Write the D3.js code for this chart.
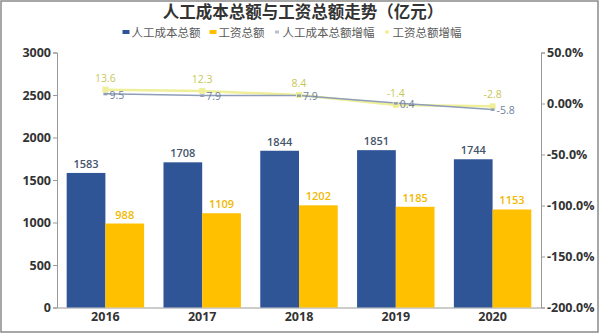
<!DOCTYPE html>
<html><head><meta charset="utf-8">
<script src="https://cdn.jsdelivr.net/npm/d3@7"></script>
<style>
body{margin:0;background:#fff;}
svg{display:block;font-family:"Noto Sans CJK SC","Open Sans",sans-serif;}
</style></head><body>
<svg id="c" width="600" height="334"></svg>
<script>
const title = "人工成本总额与工资总额走势（亿元）";
const years = ["2016","2017","2018","2019","2020"];
const laborCost = [1583,1708,1844,1851,1744];
const wages = [988,1109,1202,1185,1153];
const laborGrowth = [9.5,7.9,7.9,0.4,-5.8];
const wageGrowth = [13.6,12.3,8.4,-1.4,-2.8];
const leftTicks = [0,500,1000,1500,2000,2500,3000];
const rightTicks = [50,0,-50,-100,-150,-200];
const rightTickLabels = ["50.0%","0.00%","-50.0%","-100.0%","-150.0%","-200.0%"];
const seriesNames = ["人工成本总额","工资总额","人工成本总额增幅","工资总额增幅"];

const C = {blue:"#2F5597", yellow:"#FFC000", blueLine:"#8E9DB8", yellowLine:"#EFEF9A",
  blueLbl:"#44546A", yellowLbl:"#F2B800", blueLineLbl:"#6F7F9E", yellowLineLbl:"#C9C75A", tick:"#333"};

const svg = d3.select("#c");
svg.append("rect").attr("x",1).attr("y",1).attr("width",597).attr("height",331)
  .attr("fill","#fff").attr("stroke","#8a8a8a").attr("stroke-width",1.5);

const L = 57, R = 541, T = 52.5, B = 307.5;
const x = d3.scaleBand().domain(years).range([L,R]).paddingInner(0.2).paddingOuter(0.1);
const xs = d3.scaleBand().domain([0,1]).range([0,x.bandwidth()]);
const y = d3.scaleLinear().domain([0,3000]).range([B,T]);
const y2 = d3.scaleLinear().domain([-200,50]).range([B,T]);

// title
svg.append("text").attr("x",303).attr("y",18).attr("text-anchor","middle")
  .attr("font-size",16.5).attr("font-weight","bold").attr("fill","#333").text(title);

// axes
const gl = svg.append("g").attr("transform",`translate(${L},0)`)
  .call(d3.axisLeft(y).tickValues(leftTicks).tickSize(4).tickPadding(2).tickFormat(d3.format("d")));
const gr = svg.append("g").attr("transform",`translate(${R},0)`)
  .call(d3.axisRight(y2).tickValues(rightTicks).tickSize(4).tickPadding(2)
    .tickFormat((d,i)=>rightTickLabels[i]));
[gl,gr].forEach(g=>{
  g.select(".domain").attr("stroke","#999");
  g.selectAll(".tick line").attr("stroke","#999");
  g.selectAll(".tick text").attr("fill",C.tick).attr("font-size",12.5).attr("font-weight","bold")
    .attr("font-family","'Open Sans',sans-serif");
});
const gx = svg.append("g").attr("transform",`translate(0,${B})`)
  .call(d3.axisBottom(x).tickSize(0).tickPadding(5));
gx.select(".domain").attr("stroke","#999");
gx.selectAll(".tick text").attr("fill",C.tick).attr("font-size",12.5).attr("font-weight","bold")
  .attr("font-family","'Open Sans',sans-serif");

// bars
const grp = svg.append("g");
years.forEach((yr,i)=>{
  [[laborCost[i],C.blue,C.blueLbl],[wages[i],C.yellow,C.yellowLbl]].forEach(([v,col,lc],k)=>{
    const bx = x(yr)+xs(k), bw = xs.bandwidth();
    grp.append("rect").attr("x",bx).attr("y",y(v)).attr("width",bw).attr("height",B-y(v)).attr("fill",col);
    grp.append("text").attr("x",bx+bw/2).attr("y",y(v)-5).attr("text-anchor","middle")
      .attr("font-size",11).attr("font-weight",600).attr("fill",lc)
      .attr("font-family","'Open Sans',sans-serif").text(v);
  });
});

// lines
const cx = d=>x(d)+x.bandwidth()/2;
const line = d3.line().x(d=>cx(d[0])).y(d=>y2(d[1]));
const lw = years.map((d,i)=>[d,wageGrowth[i]]);
const lb = years.map((d,i)=>[d,laborGrowth[i]]);
svg.append("path").attr("d",line(lw)).attr("fill","none").attr("stroke",C.yellowLine).attr("stroke-width",2.5);
svg.append("path").attr("d",line(lb)).attr("fill","none").attr("stroke",C.blueLine).attr("stroke-width",1.5);
lw.forEach(d=>{
  svg.append("rect").attr("x",cx(d[0])-3).attr("y",y2(d[1])-3).attr("width",6).attr("height",6).attr("fill",C.yellowLine);
  svg.append("text").attr("x",cx(d[0])).attr("y",y2(d[1])-8).attr("text-anchor","middle")
    .attr("font-size",10.5).attr("fill",C.yellowLineLbl).attr("font-family","'Open Sans',sans-serif").text(d[1]);
});
lb.forEach(d=>{
  svg.append("rect").attr("x",cx(d[0])-2).attr("y",y2(d[1])-1).attr("width",4).attr("height",2.5).attr("fill",C.blueLine);
  svg.append("text").attr("x",cx(d[0])+4).attr("y",y2(d[1])+5).attr("text-anchor","start")
    .attr("font-size",10.5).attr("fill",C.blueLineLbl).attr("font-family","'Open Sans',sans-serif").text(d[1]);
});

// legend
const lg = svg.append("g").attr("font-size",11.5).attr("fill","#595959");
const items = [
  {n:seriesNames[0], c:C.blue, t:"bar"},
  {n:seriesNames[1], c:C.yellow, t:"bar"},
  {n:seriesNames[2], c:"#b9c0cc", t:"dot"},
  {n:seriesNames[3], c:"#f0ee9a", t:"dot"}
];
let cur = 0;
const parts = [];
items.forEach(it=>{
  const g = lg.append("g");
  if(it.t==="bar") g.append("rect").attr("x",0).attr("y",-6.5).attr("width",7).attr("height",4).attr("fill",it.c);
  else g.append("rect").attr("x",1.5).attr("y",-6).attr("width",4).attr("height",3).attr("fill",it.c);
  const t = g.append("text").attr("x",9).attr("y",0).text(it.n);
  const w = 9 + t.node().getComputedTextLength();
  parts.push({g, off:cur});
  cur += w + 9;
});
const total = cur - 9;
const start = 292 - total/2;
parts.forEach(p=>p.g.attr("transform",`translate(${start+p.off},36.5)`));
</script>
</body></html>
